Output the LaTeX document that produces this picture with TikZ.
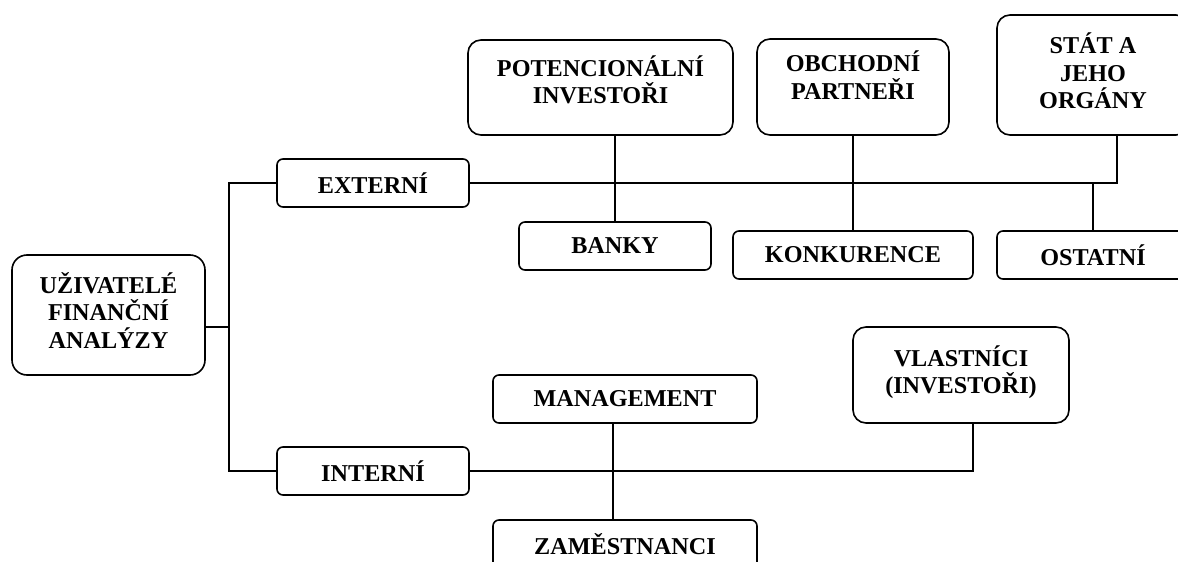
\documentclass[tikz,border=0pt]{standalone}
\usepackage{fontspec}
\setmainfont{Liberation Serif}
\usepackage{tikz}
\tikzset{%
	box/.style = { draw, line width=1.6pt, align=center, inner sep=2pt,
		font=\fontsize{24.2}{27.5}\selectfont\bfseries },
	smallbox/.style = { box, rounded corners=6pt, minimum height=48pt },
	bigbox/.style = { box, rounded corners=13pt },
	link/.style = { line width=1.6pt }
}

\begin{document}
\begin{tikzpicture}[x=1pt, y=-1pt]
	\clip (0,0) rectangle (1178,562);
	% koren
	\node[bigbox, rounded corners=15pt, minimum width=193pt, minimum height=120pt, text depth=10pt] (uziv) at (108.5,315) {UŽIVATELÉ\\FINANČNÍ\\ANALÝZY};
	
	% 1. externi uzivatele
	\node[smallbox, minimum width=192pt] (externi) at (373,183) {EXTERNÍ};
	\node[bigbox, minimum width=265pt, minimum height=95pt, text depth=16pt] (potenc) at (600.5,87.5) {POTENCIONÁLNÍ\\INVESTOŘI};
	\node[bigbox, minimum width=192pt, minimum height=96pt, text depth=24pt] (obchod) at (853,87) {OBCHODNÍ\\PARTNEŘI};
	\node[bigbox, minimum width=192pt, minimum height=120pt, text depth=8pt] (stat) at (1093,75) {STÁT A\\JEHO\\ORGÁNY};
	\node[smallbox, minimum width=192pt] (banky) at (615,246) {BANKY};
	\node[smallbox, minimum width=240pt] (konk) at (853,255) {KONKURENCE};
	\node[smallbox, minimum width=192pt] (ostatni) at (1093,255) {OSTATNÍ};
	
	% 2. interni uzivatele
	\node[smallbox, minimum width=192pt] (interni) at (373,471) {INTERNÍ};
	\node[smallbox, minimum width=264pt] (manag) at (625,399) {MANAGEMENT};
	\node[smallbox, minimum width=264pt] (zam) at (625,544) {ZAMĚSTNANCI};
	\node[bigbox, minimum width=216pt, minimum height=96pt, text depth=11pt] (vlast) at (961,375) {VLASTNÍCI\\(INVESTOŘI)};
	
	% spojnice
	\coordinate (trunk) at (229,327);
	\draw[link] (uziv.east |- trunk) -- (trunk);
	\draw[link] (externi.west) -| (trunk) |- (interni.west);
	\draw[link] (externi.east) -| ([xshift=24pt]stat.south);
	\draw[link] (banky.north) -- (banky.north |- potenc.south);
	\draw[link] (konk.north) -- (konk.north |- obchod.south);
	\draw[link] (ostatni.north) -- (ostatni.north |- externi.east);
	\draw[link] (interni.east) -| ([xshift=12pt]vlast.south);
	\draw[link] ([xshift=-12pt]manag.south) -- ([xshift=-12pt]zam.north);
\end{tikzpicture}
\end{document}
